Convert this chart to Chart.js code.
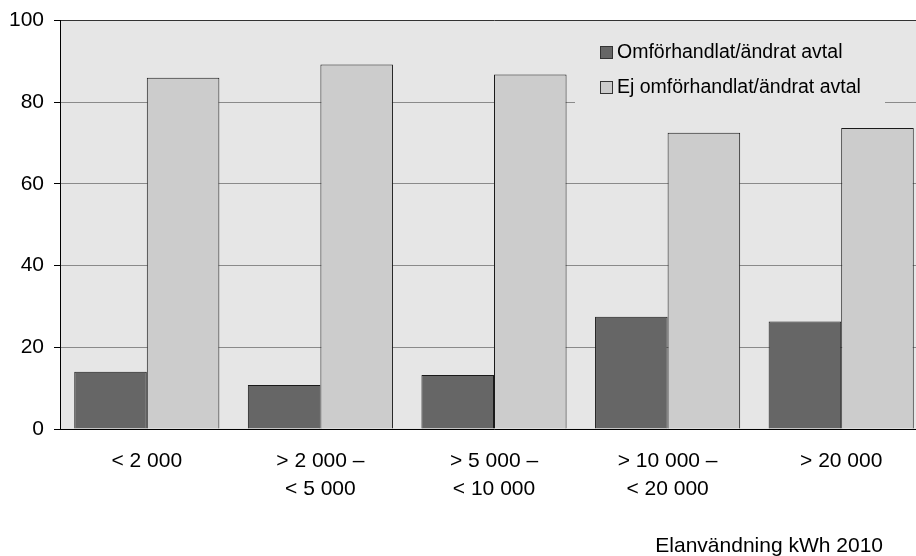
<!DOCTYPE html>
<html>
<head>
<meta charset="utf-8">
<script src="https://cdn.jsdelivr.net/npm/chart.js@4/dist/chart.umd.min.js"></script>
<style>
  html, body { margin: 0; padding: 0; background: #fff; }
  #wrap { width: 916px; height: 556px; overflow: hidden; }
  canvas { display: block; }
</style>
</head>
<body>
<div id="wrap"><canvas id="c" width="930" height="556"></canvas></div>
<script>
// categories (kWh) and shares in percent
const categories = [['< 2 000'], ['> 2 000 –', '< 5 000'], ['> 5 000 –', '< 10 000'], ['> 10 000 –', '< 20 000'], ['> 20 000']];
const seriesNames = ['Omförhandlat/ändrat avtal', 'Ej omförhandlat/ändrat avtal'];
const renegotiated = [14, 10.8, 13.2, 27.5, 26.3];
const notRenegotiated = [86, 89.2, 86.8, 72.5, 73.7];
const yTicks = [0, 20, 40, 60, 80, 100];
const axisTitle = 'Elanvändning kWh 2010';

const FONT = '"Liberation Sans", Arial, sans-serif';

// grey plot background
const plotBg = {
  id: 'plotBg',
  beforeDraw(chart) {
    const { ctx, chartArea: a } = chart;
    ctx.save();
    ctx.fillStyle = '#e6e6e6';
    ctx.fillRect(a.left, a.top, a.right - a.left, a.bottom - a.top);
    ctx.restore();
  }
};

// legend drawn inside the plot, plus the axis caption bottom right
const insideLegend = {
  id: 'insideLegend',
  beforeDatasetsDraw(chart) {
    const ctx = chart.ctx;
    ctx.save();
    ctx.fillStyle = '#e6e6e6';
    ctx.fillRect(575, 32, 310, 78);
    ctx.font = '19.5px ' + FONT;
    ctx.textBaseline = 'middle';
    chart.data.datasets.forEach((ds, i) => {
      const y = 53 + i * 35;
      ctx.fillStyle = ds.backgroundColor;
      ctx.fillRect(600.5, y - 6.5, 12, 12);
      ctx.strokeStyle = '#333';
      ctx.lineWidth = 1;
      ctx.strokeRect(600.5, y - 6.5, 12, 12);
      ctx.fillStyle = '#000';
      ctx.fillText(ds.label, 617, y);
    });
    ctx.restore();
  },
  afterDraw(chart) {
    const ctx = chart.ctx;
    ctx.save();
    ctx.font = '21px ' + FONT;
    ctx.fillStyle = '#000';
    ctx.textAlign = 'right';
    ctx.textBaseline = 'alphabetic';
    ctx.fillText(axisTitle, 883, 552);
    ctx.restore();
  }
};

new Chart(document.getElementById('c'), {
  type: 'bar',
  data: {
    labels: categories,
    datasets: [{
      label: seriesNames[0],
      data: renegotiated,
      backgroundColor: '#666666',
      borderColor: '#1a1a1a',
      borderWidth: 1
    }, {
      label: seriesNames[1],
      data: notRenegotiated,
      backgroundColor: '#cccccc',
      borderColor: '#1a1a1a',
      borderWidth: 1
    }]
  },
  options: {
    responsive: false,
    animation: false,
    layout: { padding: { top: 18, right: 2, left: 0, bottom: 0 } },
    categoryPercentage: 0.836,
    barPercentage: 1,
    plugins: { legend: { display: false }, tooltip: { enabled: false } },
    scales: {
      x: {
        grid: { color: 'rgba(0,0,0,0)', drawTicks: false },
        border: { display: true, color: '#000', width: 1 },
        ticks: { color: '#000', font: { family: FONT, size: 21, lineHeight: 1.3 }, padding: 19, maxRotation: 0, autoSkip: false },
        afterFit(s) { s.height = 127; }
      },
      y: {
        min: 0,
        max: 100,
        afterBuildTicks(s) { s.ticks = yTicks.map(v => ({ value: v })); },
        grid: {
          color: c => (c.tick && c.tick.value === 100 ? '#333' : '#8a8a8a'),
          tickColor: '#000',
          tickLength: 6
        },
        border: { display: true, color: '#000', width: 1 },
        ticks: { color: '#000', font: { family: FONT, size: 21, lineHeight: 1 }, padding: 10 },
        afterFit(s) { s.width = 60; }
      }
    }
  },
  plugins: [plotBg, insideLegend]
});
</script>
</body>
</html>
